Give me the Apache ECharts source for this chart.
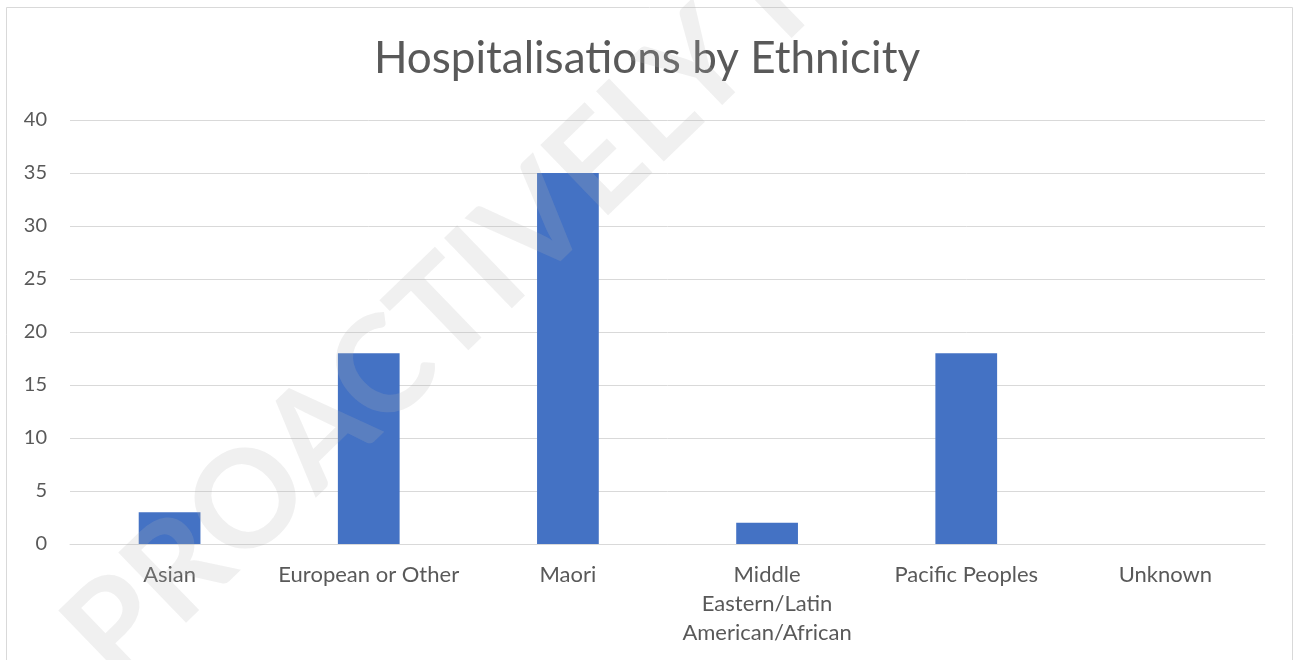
<!DOCTYPE html>
<html>
<head>
<meta charset="utf-8">
<title>Hospitalisations by Ethnicity</title>
<script src="https://cdn.jsdelivr.net/npm/echarts@6/dist/echarts.min.js"></script>
<style>
  html, body { margin: 0; padding: 0; background: #ffffff; }
  #chart { width: 1294px; height: 660px; }
</style>
</head>
<body>
<div id="chart"></div>
<script>
// Hospitalisation counts per ethnic group
const categories = ['Asian', 'European or Other', 'Maori', 'Middle Eastern/Latin American/African', 'Pacific Peoples', 'Unknown'];
const hospitalisations = [3, 18, 35, 2, 18, 0];
const yTicks = [0, 5, 10, 15, 20, 25, 30, 35, 40];

const FONT = 'Lato, "Noto Sans", sans-serif';
const TEXT_COLOR = '#595959';
const GRID_COLOR = '#d9d9d9';

const chart = echarts.init(document.getElementById('chart'), null, { renderer: 'canvas' });

chart.setOption({
  animation: false,
  backgroundColor: '#ffffff',
  title: {
    text: 'Hospitalisations by Ethnicity',
    left: 'center',
    top: 32,
    textStyle: { fontFamily: FONT, fontSize: 44, fontWeight: 'normal', color: TEXT_COLOR }
  },
  grid: { left: 70, right: 29, top: 120, bottom: 116, containLabel: false },
  xAxis: {
    type: 'category',
    data: categories,
    axisLine: { show: true, lineStyle: { color: GRID_COLOR, width: 1 } },
    axisTick: { show: false },
    axisLabel: {
      interval: 0,
      margin: 16,
      fontFamily: FONT,
      fontSize: 22,
      lineHeight: 29,
      color: TEXT_COLOR,
      // long names wrap word by word
      formatter: v => (v.length > 18 ? v.split(' ').join('\n') : v)
    }
  },
  yAxis: {
    type: 'value',
    min: yTicks[0],
    max: yTicks[yTicks.length - 1],
    interval: yTicks[1] - yTicks[0],
    axisLine: { show: false },
    axisTick: { show: false },
    splitLine: { show: true, lineStyle: { color: GRID_COLOR, width: 1 } },
    axisLabel: { margin: 23, fontFamily: FONT, fontSize: 20, color: TEXT_COLOR }
  },
  series: [{
    type: 'bar',
    data: hospitalisations,
    barWidth: '31%',
    itemStyle: { color: '#4472c4' }
  }],
  graphic: [
    {
      // chart area frame
      type: 'rect',
      z: 0,
      silent: true,
      shape: { x: 6.5, y: 7.5, width: 1286, height: 700 },
      style: { fill: 'none', stroke: GRID_COLOR, lineWidth: 1 }
    },
    {
      // diagonal release stamp across the plot
      type: 'text',
      z: 100,
      silent: true,
      x: 88,
      y: 657,
      rotation: Math.PI * 44 / 180,
      style: {
        text: 'PROACTIVELY RELEASED',
        fontFamily: FONT,
        fontWeight: 'bold',
        fontSize: 135,
        fill: 'rgba(179,179,179,0.2)',
        align: 'left',
        verticalAlign: 'middle'
      }
    }
  ]
});
</script>
</body>
</html>
